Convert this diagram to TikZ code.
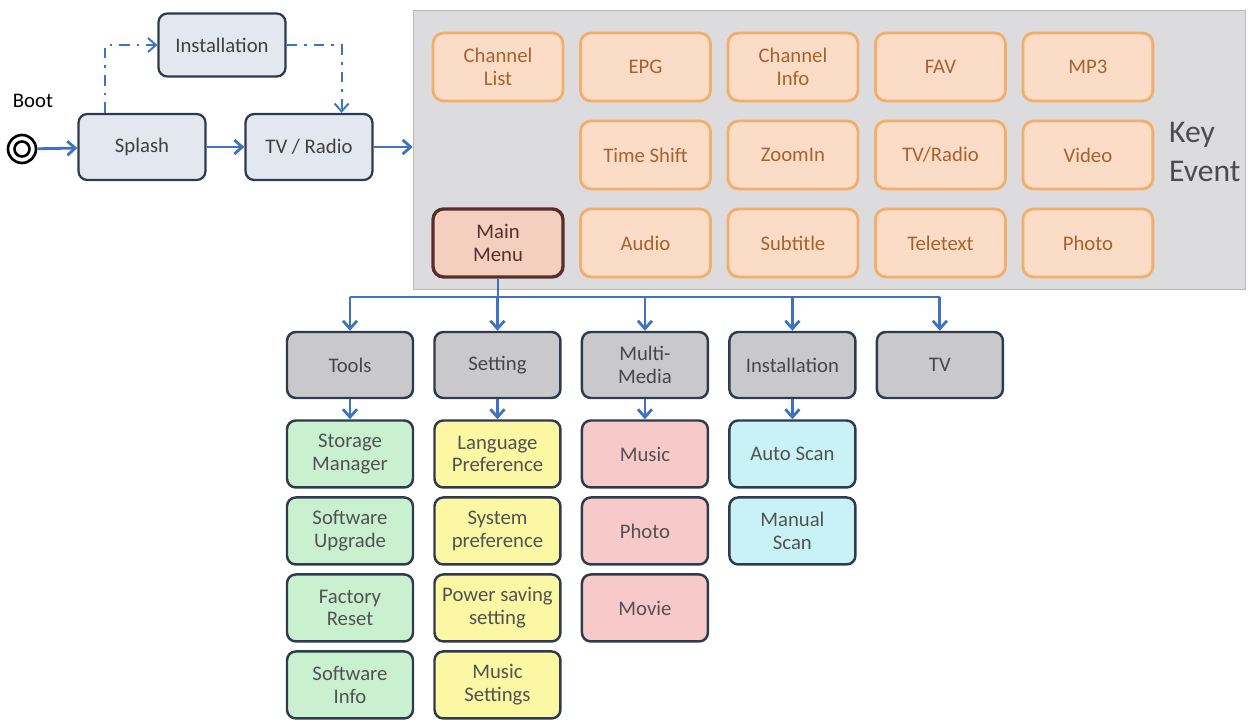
\documentclass[tikz,border=0pt]{standalone}
\usepackage{fontspec}
\setmainfont{Carlito}
\usepackage{xcolor}
\usepackage{tikz}
\usetikzlibrary{positioning,arrows.meta}

\definecolor{boxline}{HTML}{2E3B4E}
\definecolor{flowfill}{HTML}{E3E7EF}
\definecolor{flowblue}{HTML}{3F72C0}
\definecolor{panelfill}{HTML}{DCDCDE}
\definecolor{keyline}{HTML}{F2AE6C}
\definecolor{keyfill}{HTML}{FBDCC6}
\definecolor{keytext}{HTML}{A8622E}
\definecolor{menuline}{HTML}{5A2D2D}
\definecolor{menufill}{HTML}{F4CFC0}
\definecolor{menugray}{HTML}{C9C9CB}
\definecolor{toolfill}{HTML}{C9F1D0}
\definecolor{setfill}{HTML}{FBF7A3}
\definecolor{mediafill}{HTML}{F7C9C9}
\definecolor{scanfill}{HTML}{C9F2F7}

\begin{document}
\begin{tikzpicture}[x=0.02cm, y=-0.02cm, node distance=2.95cm, auto,
    font=\fontsize{11.8}{13}\selectfont,
    flowbox/.style={draw=boxline, line width=1.3pt, fill=flowfill, rounded corners=5pt, minimum width=2.54cm, minimum height=1.32cm, text=black!75, align=center, inner sep=1pt},
    keybox/.style={draw=keyline, line width=1.6pt, fill=keyfill, rounded corners=6pt, minimum width=2.6cm, minimum height=1.36cm, text=keytext, align=center, inner sep=1pt},
    menubox/.style={draw=boxline, line width=1.4pt, fill=menugray, rounded corners=5pt, minimum width=2.52cm, minimum height=1.32cm, text=black!72, align=center, inner sep=1pt},
    subbox/.style={draw=boxline, line width=1.4pt, rounded corners=5pt, minimum width=2.52cm, minimum height=1.34cm, text=black!68, align=center, inner sep=1pt},
    flow/.style={draw=flowblue, line width=1.6pt, -{Straight Barb[length=4.5pt,width=8pt]}},
    dashflow/.style={draw=flowblue, line width=1.1pt, dash pattern=on 6pt off 4pt on 1.5pt off 4pt, -{Straight Barb[length=4.5pt,width=8pt]}}]
    \useasboundingbox (0,0) rectangle (1251,723);

    % start up
    \node (bootlbl) at (33,101) {Boot};
    \node (boot) [circle, draw, line width=1.5pt, minimum size=0.56cm, inner sep=0] at (22,149) {};
    \node (bootin) [circle, draw, line width=1.5pt, minimum size=0.3cm, inner sep=0] at (boot) {};
    \node (splash) [flowbox] at (142,147) {Splash};
    \node (tvradio) [flowbox, right of=splash, node distance=3.34cm] {TV / Radio};
    \node (install) [flowbox, minimum height=1.26cm] at (222,45) {Installation};

    % key events
    \node (keypanel) [draw=gray!55, fill=panelfill, minimum width=16.64cm, minimum height=5.58cm] at (829,149.5) {};
    \node (chlist) [keybox] at (498,67) {Channel\\List};
    \node (epg) [keybox, right of=chlist] {EPG};
    \node (chinfo) [keybox, right of=epg] {Channel\\Info};
    \node (fav) [keybox, right of=chinfo] {FAV};
    \node (mp3) [keybox, right of=fav] {MP3};
    \node (timeshift) [keybox, below of=epg, node distance=1.76cm] {Time Shift};
    \node (zoomin) [keybox, right of=timeshift] {ZoomIn};
    \node (tvkey) [keybox, right of=zoomin] {TV/Radio};
    \node (video) [keybox, right of=tvkey] {Video};
    \node (audio) [keybox, below of=timeshift, node distance=1.76cm] {Audio};
    \node (subtitle) [keybox, right of=audio] {Subtitle};
    \node (teletext) [keybox, right of=subtitle] {Teletext};
    \node (photokey) [keybox, right of=teletext] {Photo};
    \node (mainmenu) [keybox, draw=menuline, fill=menufill, text=menuline, line width=1.9pt, below of=chlist, node distance=3.52cm] {Main\\Menu};
    \node (keylbl) [anchor=west, align=left, text=black!70, font=\fontsize{18}{22.7}\selectfont] at (1163,152) {Key\\Event};

    % main menu
    \coordinate (bar) at (498,297);
    \node (tools) [menubox] at (350,365) {Tools};
    \node (setting) [menubox, right of=tools] {Setting};
    \node (media) [menubox, right of=setting] {Multi-\\Media};
    \node (instmenu) [menubox, right of=media] {Installation};
    \node (tv) [menubox, right of=instmenu] {TV};

    \node (storage) [subbox, fill=toolfill, below of=tools, node distance=1.78cm] {Storage\\Manager};
    \node (upgrade) [subbox, fill=toolfill, below of=storage, node distance=1.54cm] {Software\\Upgrade};
    \node (factory) [subbox, fill=toolfill, below of=upgrade, node distance=1.54cm] {Factory\\Reset};
    \node (swinfo) [subbox, fill=toolfill, below of=factory, node distance=1.54cm] {Software\\Info};
    \node (language) [subbox, fill=setfill, below of=setting, node distance=1.78cm] {Language\\Preference};
    \node (system) [subbox, fill=setfill, below of=language, node distance=1.54cm] {System\\preference};
    \node (power) [subbox, fill=setfill, below of=system, node distance=1.54cm] {Power saving\\setting};
    \node (musicset) [subbox, fill=setfill, below of=power, node distance=1.54cm] {Music\\Settings};
    \node (music) [subbox, fill=mediafill, below of=media, node distance=1.78cm] {Music};
    \node (photo) [subbox, fill=mediafill, below of=music, node distance=1.54cm] {Photo};
    \node (movie) [subbox, fill=mediafill, below of=photo, node distance=1.54cm] {Movie};
    \node (autoscan) [subbox, fill=scanfill, below of=instmenu, node distance=1.78cm] {Auto Scan};
    \node (manscan) [subbox, fill=scanfill, below of=autoscan, node distance=1.54cm] {Manual\\Scan};

    % connectors
    \path[flow] (boot) edge (splash);
    \path[flow] (splash) edge (tvradio);
    \draw[flow] (tvradio) -- (tvradio -| keypanel.west);
    \draw[dashflow] ([xshift=0.56cm]splash.north west) |- (install);
    \draw[dashflow] (install) -| ([xshift=-0.64cm]tvradio.north east);

    \draw[flow, -] (mainmenu.south) -- (mainmenu.south |- bar);
    \draw[flow, -] (tools.north |- bar) -- (tv.north |- bar);
    \draw[flow] (tools.north |- bar) -- (tools);
    \draw[flow] (setting.north |- bar) -- (setting);
    \draw[flow] (media.north |- bar) -- (media);
    \draw[flow] (instmenu.north |- bar) -- (instmenu);
    \draw[flow] (tv.north |- bar) -- (tv);

    \path[flow] (tools) edge (storage);
    \path[flow] (setting) edge (language);
    \path[flow] (media) edge (music);
    \path[flow] (instmenu) edge (autoscan);
\end{tikzpicture}
\end{document}
